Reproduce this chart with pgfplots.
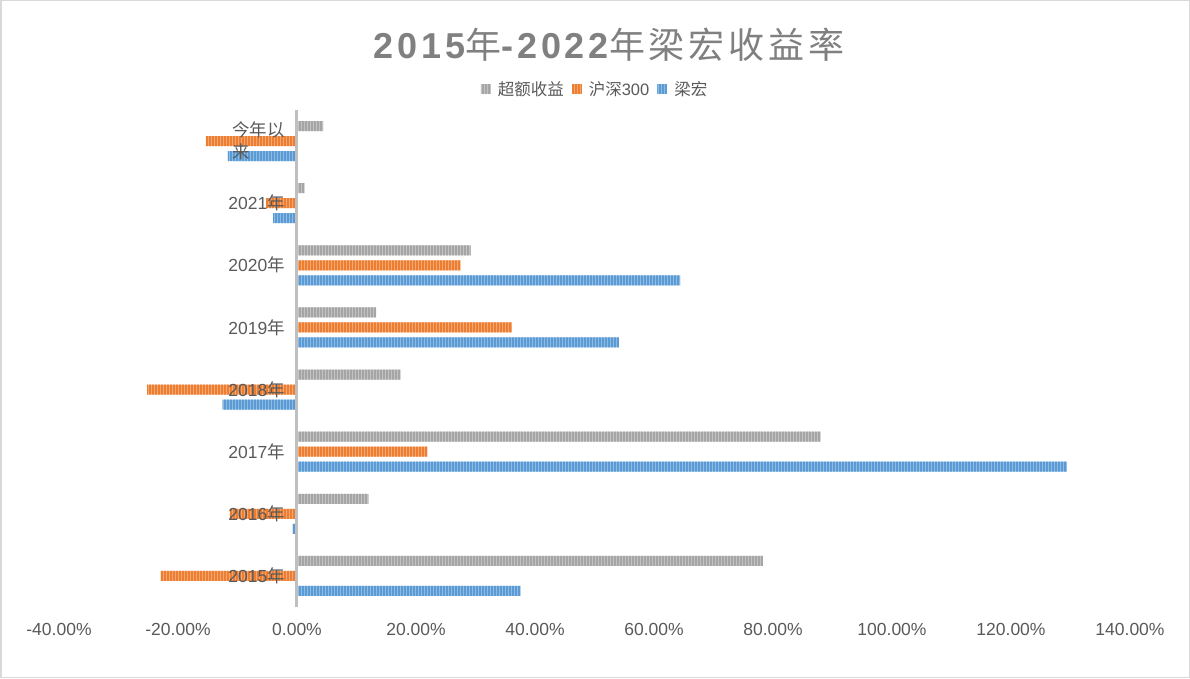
\documentclass[border=0pt]{standalone}
\usepackage{fontspec}
\setmainfont{Liberation Sans}
\newfontfamily\cjk{Noto Sans CJK SC}
\usepackage{pgfplots}
\pgfplotsset{compat=1.18}
\usetikzlibrary{patterns.meta}
\definecolor{cgray}{RGB}{165,165,165}
\definecolor{corange}{RGB}{237,125,49}
\definecolor{cblue}{RGB}{91,155,213}
\definecolor{txt}{RGB}{89,89,89}
\definecolor{ttl}{RGB}{128,128,128}
\definecolor{frame}{RGB}{217,217,217}
\definecolor{zline}{RGB}{191,191,191}
\pgfplotsset{
  stripe/.style={draw=none, fill=#1!68!white,
    postaction={pattern={Lines[angle=90,distance=3pt,line width=1.5pt]}, pattern color=#1}},
}
\begin{document}
\begin{tikzpicture}[x=1pt,y=1pt]
\useasboundingbox (0,0) rectangle (1190,678);
\draw[frame, line width=1.5pt] (0.75,0.75) rectangle (1189.25,677.25);
\node[text=ttl, inner sep=0pt] at (609,633) {\fontsize{36}{40}\selectfont\addfontfeatures{LetterSpace=11}\bfseries 2015{\mdseries\cjk\addfontfeatures{LetterSpace=11} 年}-2022{\mdseries\cjk\addfontfeatures{LetterSpace=11} 年梁宏收益率}};
\begin{axis}[at={(59pt,71pt)}, anchor=south west, scale only axis,
  width=1071pt, height=497pt,
  axis on top,
  xbar, bar width=10pt,
  every axis plot post/.append style={legend image code/.code={\path[#1, draw=none] (0pt,-5pt) rectangle (10pt,5pt);}},
  xmin=-40, xmax=140, ymin=-0.5, ymax=7.5,
  xtick={-40,-20,...,140},
  ytick={0,...,7},
  yticklabels={2015{\cjk 年},2016{\cjk 年},2017{\cjk 年},2018{\cjk 年},2019{\cjk 年},2020{\cjk 年},2021{\cjk 年},{{\cjk 今年以}\\{\cjk 来}}},
  axis line style={draw=none},
  major tick length=0pt,
  /pgf/number format/assume math mode=true,
  xticklabel={\pgfmathprintnumber[fixed,fixed zerofill,precision=2]{\tick}\%},
  xticklabel style={font=\fontsize{17.5}{20}\selectfont, text=txt, yshift=-13pt},
  yticklabel style={font=\fontsize{17.5}{22}\selectfont, text=txt, align=left, anchor=east, inner sep=0pt, xshift=226pt},
  legend style={at={(0.5005,1.042)}, anchor=center, legend columns=3, draw=none, fill=none,
    font=\fontsize{16.5}{18}\selectfont, text=txt,
    /tikz/every odd column/.append style={column sep=5pt},
    /tikz/every even column/.append style={column sep=6pt},
    nodes={inner sep=2pt}},
]
\addplot[stripe=cgray, bar shift=15pt]
  coordinates {(78.3,0) (12.0,1) (88.0,2) (17.4,3) (13.3,4) (29.2,5) (1.3,6) (4.4,7)};
\addlegendentry{{\cjk 超额收益}}
\addplot[stripe=corange, bar shift=0pt]
  coordinates {(-22.9,0) (-11.3,1) (21.9,2) (-25.2,3) (36.1,4) (27.5,5) (-5.2,6) (-15.3,7)};
\addlegendentry{{\cjk 沪深}300}
\addplot[stripe=cblue, bar shift=-15pt]
  coordinates {(37.6,0) (-0.75,1) (129.4,2) (-12.5,3) (54.1,4) (64.4,5) (-4.0,6) (-11.6,7)};
\addlegendentry{{\cjk 梁宏}}
\draw[zline, line width=3pt] (axis cs:0,-0.5) -- (axis cs:0,7.5);
\end{axis}
\end{tikzpicture}
\end{document}
